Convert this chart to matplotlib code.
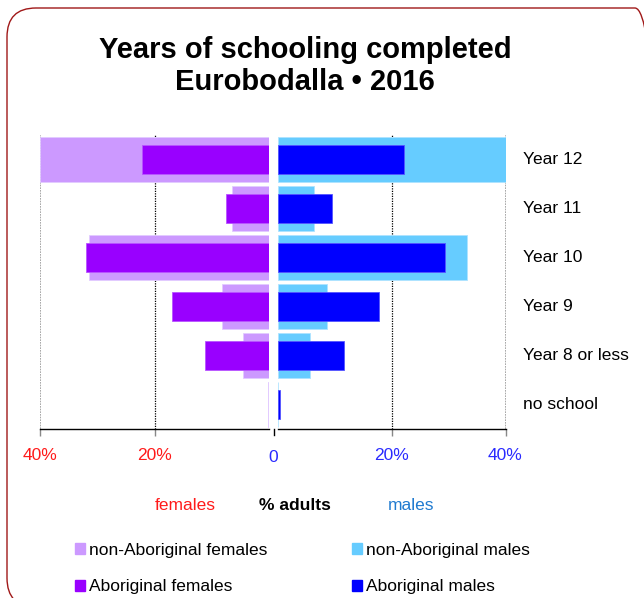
import numpy as np
import matplotlib.pyplot as plt
from matplotlib.patches import FancyBboxPatch, Patch

plt.rcParams['font.family'] = ['Liberation Sans', 'DejaVu Sans']

# schooling levels, top to bottom
levels = ['Year 12', 'Year 11', 'Year 10', 'Year 9', 'Year 8 or less', 'no school']

# % of adults
nonab_f = [40.0, 6.5, 31.5, 8.2, 4.5, 0.2]
ab_f = [22.1, 7.5, 32.0, 16.9, 11.2, 0.0]
nonab_m = [40.0, 6.3, 33.3, 8.7, 5.7, 0.0]
ab_m = [22.1, 9.5, 29.4, 17.7, 11.6, 0.3]

c_nonab_f = '#cc99ff'
c_ab_f = '#9900ff'
c_nonab_m = '#66ccff'
c_ab_m = '#0000ff'
red = '#ff1a1a'
blue = '#2a2aff'

fig = plt.figure(figsize=(6.44, 5.98), dpi=100)
W, H = 644, 598

def px_axes(x0, x1, ytop, ybot):
    return fig.add_axes([x0 / W, 1 - ybot / H, (x1 - x0) / W, (ybot - ytop) / H])

ax_f = px_axes(40, 269, 135, 429)
ax_m = px_axes(278, 505.5, 135, 429)

y = np.arange(len(levels))
ax_f.barh(y, nonab_f, height=0.91, color=c_nonab_f, edgecolor='#e2ccff', linewidth=0.6, zorder=2)
ax_f.barh(y, ab_f, height=0.585, color=c_ab_f, edgecolor='#b855ff', linewidth=0.6, zorder=3)
ax_m.barh(y, nonab_m, height=0.91, color=c_nonab_m, edgecolor='#aee3ff', linewidth=0.6, zorder=2)
ax_m.barh(y, ab_m, height=0.585, color=c_ab_m, edgecolor='#5555ff', linewidth=0.6, zorder=3)

ax_f.set_xlim(40, 0)
ax_m.set_xlim(0, 40)

for ax, ticks, col in [(ax_f, [40, 20], red), (ax_m, [20, 40], blue)]:
    ax.set_ylim(5.5, -0.5)
    ax.set_yticks([])
    for s in ['top', 'left', 'right']:
        ax.spines[s].set_visible(False)
    ax.spines['bottom'].set_color('black')
    ax.spines['bottom'].set_linewidth(1.0)
    ax.set_xticks(ticks)
    ax.set_xticklabels([f'{t}%' for t in ticks], color=col, fontsize=12.5)
    ax.tick_params(axis='x', length=5, width=1, color='#888888', pad=9)
    ax.axvline(20, color='black', linestyle=(0, (1, 1)), linewidth=0.9, zorder=1)
    ax.axvline(40, color='#999999', linestyle=(0, (1, 0.6)), linewidth=1.2, zorder=1)
    ax.set_facecolor('none')

# category labels on the right
for yi, lab in zip(y, levels):
    ax_m.text(1.077, yi, lab, transform=ax_m.get_yaxis_transform(), ha='left', va='center',
              fontsize=12.5, color='black')

# shared zero between the two panels
fpos, mpos = ax_f.get_position(), ax_m.get_position()
xmid = (fpos.x1 + mpos.x0) / 2
fig.text(xmid, fpos.y0 - 0.035, '0', ha='center', va='top', fontsize=12.5, color=blue)
fig.add_artist(plt.Line2D([xmid, xmid], [fpos.y0, fpos.y0 - 0.01], color='black', linewidth=1))

fig.text(305 / W, 1 - 50 / H, 'Years of schooling completed', ha='center', va='center',
         fontsize=21, fontweight='bold')
fig.text(305 / W, 1 - 82 / H, 'Eurobodalla \u2022 2016', ha='center', va='center',
         fontsize=21, fontweight='bold')

fig.text(185 / W, 1 - 505 / H, 'females', ha='center', va='center', fontsize=12.5, color=red)
fig.text(295 / W, 1 - 505 / H, '% adults', ha='center', va='center', fontsize=12.5,
         fontweight='bold', color='black')
fig.text(411 / W, 1 - 505 / H, 'males', ha='center', va='center', fontsize=12.5, color='#1f7ad0')

handles = [Patch(color=c_nonab_f, label='non-Aboriginal females'),
           Patch(color=c_ab_f, label='Aboriginal females'),
           Patch(color=c_nonab_m, label='non-Aboriginal males'),
           Patch(color=c_ab_m, label='Aboriginal males')]
fig.legend(handles=handles, ncol=2, loc='upper left', bbox_to_anchor=(66 / W, 1 - 534 / H),
           frameon=False, fontsize=12.5, handlelength=0.6, handleheight=0.6,
           handletextpad=0.2, columnspacing=4.9, labelspacing=1.25, borderpad=0)

# rounded frame running off the right and bottom edges
fx0, fx1, fy_top, fy_bot, rad = 7, 664, 8, 607, 29
frame = FancyBboxPatch((fx0 / W, 1 - fy_bot / H), (fx1 - fx0) / W, (fy_bot - fy_top) / H,
                       boxstyle=f'round,pad=0,rounding_size={rad / W}', mutation_aspect=W / H,
                       transform=fig.transFigure, facecolor='none', edgecolor='#a01818',
                       linewidth=1.0, clip_on=False)
fig.patches.append(frame)

fig.savefig('out.png', dpi=100)
